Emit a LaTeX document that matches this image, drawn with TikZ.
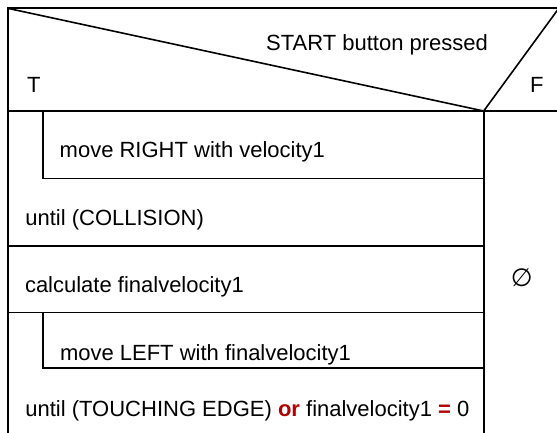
\documentclass[tikz,border=0pt]{standalone}
\usepackage{fontspec}
\setmainfont{Liberation Sans}
\newfontfamily\symfont{DejaVu Sans}
\definecolor{keyred}{RGB}{176,0,0}
\begin{document}
\begin{tikzpicture}[x=1pt,y=-1pt,
  frame/.style={line width=1.8pt,black,line cap=rect},
  inner/.style={line width=1.6pt,black},
  lbl/.style={inner sep=0pt,anchor=base west,font=\fontsize{22}{26}\selectfont},
  kw/.style={text=keyred,font=\bfseries}]
\useasboundingbox (0,0) rectangle (557,432);
% outer frame (right and bottom edges lie just outside the page)
\draw[frame] (7.7,445) -- (7.7,8.3) -- (558.8,8.3) -- (558.8,445);
% decision header
\draw[inner] (7.7,8.3) -- (483.7,111) -- (558.8,8.3);
\draw[inner] (7.7,111) -- (558.8,111);
% true/false column split
\draw[inner] (483.7,111) -- (483.7,445);
% sequence rows
\draw[inner] (7.7,245.7) -- (483.7,245.7);
\draw[inner] (7.7,312.3) -- (483.7,312.3);
% first repeat-until body
\draw[inner] (42.7,111) -- (42.7,178.3) -- (483.7,178.3);
% second repeat-until body
\draw[inner] (42.7,312.3) -- (42.7,367.7) -- (483.7,367.7);

% texts
\node[lbl] (cond) at (266,50.5) {START button pressed};
\node[lbl] (t) at (27,92.5) {T};
\node[lbl] (f) at (530,92.5) {F};
\node[lbl] (mr) at (59.5,157.3) {move RIGHT with velocity1};
\node[lbl] (uc) at (25.2,225.7) {until (COLLISION)};
\node[lbl] (cf) at (24.8,292.7) {calculate finalvelocity1};
\node[lbl] (ml) at (59.8,360) {move LEFT with finalvelocity1};
\node[lbl] (ut) at (25.2,416.7) {until (TOUCHING EDGE) {\color{keyred}\bfseries or} finalvelocity1 {\color{keyred}\bfseries =} 0};
\node[inner sep=0pt,font=\symfont\fontsize{25}{28}\selectfont] (empty) at (521.7,277.7) {∅};
\end{tikzpicture}
\end{document}
